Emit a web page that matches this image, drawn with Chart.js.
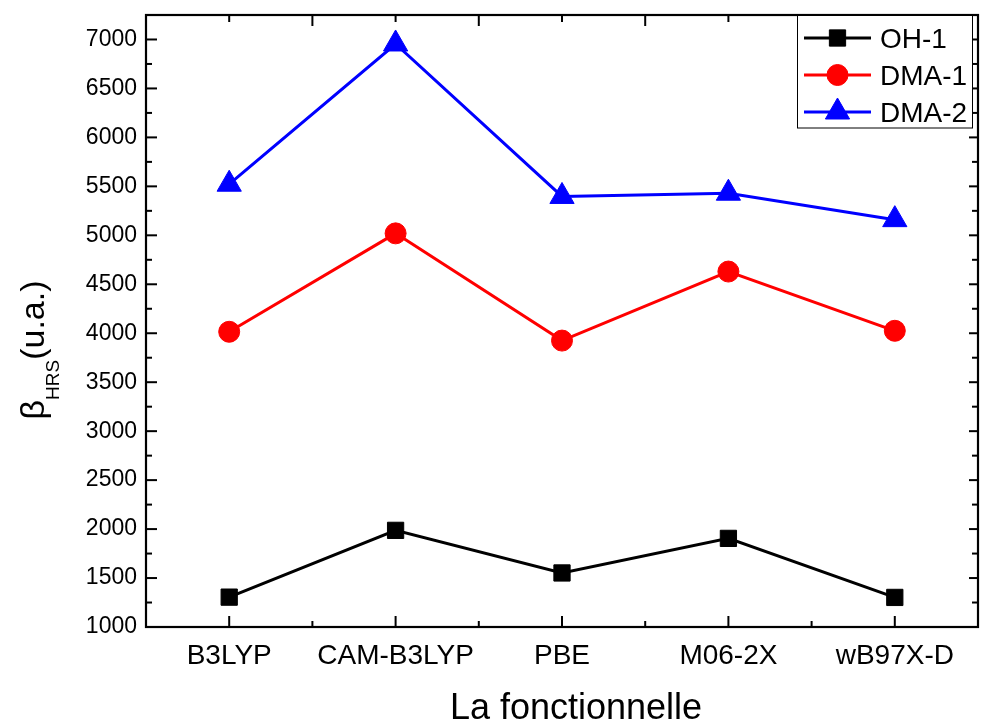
<!DOCTYPE html>
<html>
<head>
<meta charset="utf-8">
<script src="https://cdn.jsdelivr.net/npm/chart.js@4/dist/chart.umd.min.js"></script>
<style>
html,body{margin:0;padding:0;background:#fff;}
#wrap{width:981px;height:722px;position:relative;}
</style>
</head>
<body>
<div id="wrap"><canvas id="c" width="981" height="722"></canvas></div>
<script>
const categories = ['B3LYP', 'CAM-B3LYP', 'PBE', 'M06-2X', 'wB97X-D'];
const oh1  = [1305, 1987, 1552, 1905, 1302];
const dma1 = [4015, 5020, 3925, 4630, 4025];
const dma2 = [5522, 6954, 5397, 5430, 5160];
const yTicks = [1000, 1500, 2000, 2500, 3000, 3500, 4000, 4500, 5000, 5500, 6000, 6500, 7000];
const yMin = 1000, yMax = 7250;
const seriesNames = ['OH-1', 'DMA-1', 'DMA-2'];

const FONT = "'Liberation Sans', Arial, Helvetica, sans-serif";
const colors = ['#000000', '#ff0000', '#0000ff'];
const styles = [
  {pointStyle: 'rect', radius: 11.5},
  {pointStyle: 'circle', radius: 10.5},
  {pointStyle: 'triangle', radius: 14}
];

const frameAndDecor = {
  id: 'frameAndDecor',
  afterDraw(chart) {
    const {ctx, chartArea: a, scales: {x, y}} = chart;
    ctx.save();
    ctx.strokeStyle = '#000';
    ctx.lineWidth = 2;
    const line = (x1, y1, x2, y2) => { ctx.beginPath(); ctx.moveTo(x1, y1); ctx.lineTo(x2, y2); ctx.stroke(); };
    for (let i = 0; i < categories.length; i++) {
      const px = x.getPixelForValue(i);
      line(px, a.bottom, px, a.bottom - 11);
      line(px, a.top, px, a.top + 7);
      if (i < categories.length - 1) {
        const pm = x.getPixelForValue(i + 0.5);
        line(pm, a.bottom, pm, a.bottom - 6);
        line(pm, a.top, pm, a.top + 11);
      }
    }
    yTicks.forEach(v => {
      const py = y.getPixelForValue(v);
      line(a.left, py, a.left + 11, py);
      line(a.right, py, a.right - 9, py);
      const m = v + 250;
      if (m < yMax) {
        const pm = y.getPixelForValue(m);
        line(a.left, pm, a.left + 6, pm);
        line(a.right, pm, a.right - 6, pm);
      }
    });
    ctx.lineWidth = 2.2;
    ctx.strokeRect(a.left, a.top, a.right - a.left, a.bottom - a.top);

    ctx.fillStyle = '#000';
    ctx.font = '36px ' + FONT;
    ctx.textAlign = 'center';
    ctx.textBaseline = 'alphabetic';
    ctx.fillText('La fonctionnelle', 576, 719);

    ctx.save();
    ctx.translate(44, 350);
    ctx.rotate(-Math.PI / 2);
    ctx.textAlign = 'left';
    const big = '34px ' + FONT, small = '19px ' + FONT;
    ctx.font = big; const w1 = ctx.measureText('β').width;
    ctx.font = small; const w2 = ctx.measureText('HRS').width;
    ctx.font = big; const w3 = ctx.measureText('(u.a.)').width;
    let sx = -(w1 + w2 + w3) / 2;
    ctx.font = big; ctx.fillText('β', sx, 0); sx += w1;
    ctx.font = small; ctx.fillText('HRS', sx, 15); sx += w2;
    ctx.font = big; ctx.fillText('(u.a.)', sx, 0);
    ctx.restore();

    ctx.lineWidth = 1;
    ctx.fillStyle = '#fff';
    ctx.fillRect(797.5, 15.5, 175, 112.5);
    ctx.strokeStyle = '#000';
    ctx.strokeRect(797.5, 15.5, 175, 112.5);
    const rowsY = [38, 75, 112];
    ctx.font = '28px ' + FONT;
    ctx.textAlign = 'left';
    seriesNames.forEach((name, i) => {
      const yy = rowsY[i];
      ctx.strokeStyle = colors[i];
      ctx.lineWidth = 3;
      line(804, yy, 871, yy);
      ctx.fillStyle = colors[i];
      ctx.strokeStyle = colors[i];
      ctx.lineWidth = 1;
      Chart.helpers.drawPoint(ctx, {pointStyle: styles[i].pointStyle, radius: styles[i].radius, rotation: 0, borderWidth: 1}, 837.5, yy);
      ctx.fillStyle = '#000';
      ctx.fillText(name, 880, yy + 10);
    });
    ctx.restore();
  }
};

const dataArrays = [oh1, dma1, dma2];
new Chart(document.getElementById('c'), {
  type: 'line',
  data: {
    labels: categories,
    datasets: dataArrays.map((d, i) => ({
      label: seriesNames[i],
      data: d,
      borderColor: colors[i],
      backgroundColor: colors[i],
      borderWidth: 3,
      pointStyle: styles[i].pointStyle,
      pointRadius: styles[i].radius,
      pointHoverRadius: styles[i].radius,
      pointBorderWidth: 1,
      pointBackgroundColor: colors[i],
      pointBorderColor: colors[i],
      tension: 0,
      clip: false
    }))
  },
  options: {
    responsive: false,
    animation: false,
    devicePixelRatio: 1,
    layout: {autoPadding: false, padding: {left: 0, right: 3, top: 15, bottom: 0}},
    plugins: {legend: {display: false}, tooltip: {enabled: false}},
    scales: {
      x: {
        type: 'category',
        offset: true,
        grid: {display: false, drawTicks: false},
        border: {display: false},
        ticks: {color: '#000', font: {family: FONT, size: 28}, padding: 12, maxRotation: 0, autoSkip: false},
        afterFit: s => { s.height = 95; s.paddingLeft = 0; s.paddingRight = 0; s.paddingTop = 0; s.paddingBottom = 0; }
      },
      y: {
        min: yMin,
        max: yMax,
        grid: {display: false, drawTicks: false},
        border: {display: false},
        afterBuildTicks: s => { s.ticks = yTicks.map(v => ({value: v})); },
        ticks: {color: '#000', font: {family: FONT, size: 23}, padding: 9, callback: v => String(v)},
        afterFit: s => { s.width = 146; s.paddingTop = 0; s.paddingBottom = 0; s.paddingLeft = 0; s.paddingRight = 0; }
      }
    }
  },
  plugins: [frameAndDecor]
});
</script>
</body>
</html>
